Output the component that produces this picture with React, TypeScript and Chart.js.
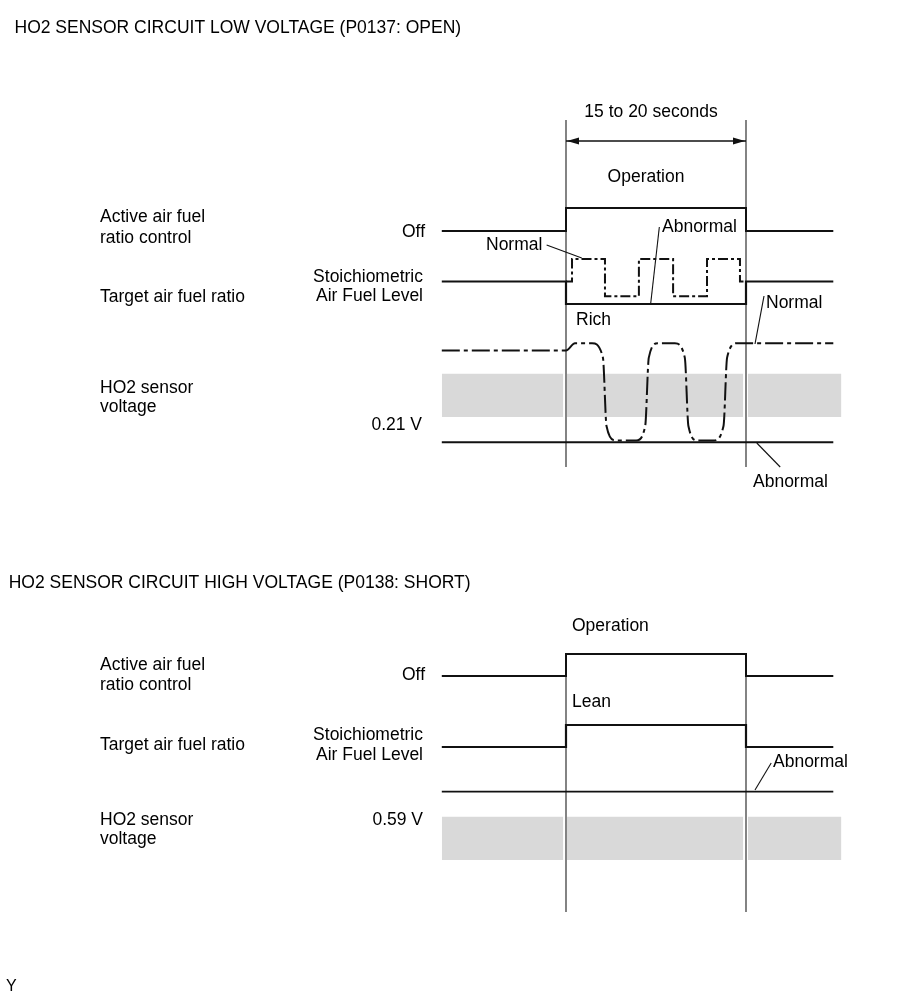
import React, { useEffect, useRef } from "react";
import { Chart, registerables } from "chart.js";

Chart.register(...registerables);

// ---------------- DATA ----------------
// time axis in seconds, 0 = start of active air-fuel ratio control, 20 = end
const OP_START = 0;
const OP_END = 20;
const T_LEFT = -13.8;
const T_RIGHT = 29.7;
const T_BAND_RIGHT = 30.6;

// Active air fuel ratio control (0 = Off, 1 = Operation)
const CTRL_T = [T_LEFT, 0, 0, 20, 20, T_RIGHT];
const CTRL_LEVEL = [0, 0, 1, 1, 0, 0];

// Target air fuel ratio (0 = Stoichiometric, +1 = Lean, -1 = Rich)
const TGT_OPEN_T = [T_LEFT, 0, 0, 20, 20, T_RIGHT];
const TGT_OPEN_LEVEL = [0, 0, -1, -1, 0, 0];
const TGT_NORMAL_T = [0, 0.67, 0.67, 4.33, 4.33, 8.1, 8.1, 11.9, 11.9, 15.67, 15.67, 19.33, 19.33, 20];
const TGT_NORMAL_LEVEL = [0, 0, 1, 1, -0.65, -0.65, 1, 1, -0.65, -0.65, 1, 1, 0, 0];
const TGT_SHORT_T = [T_LEFT, 0, 0, 20, 20, T_RIGHT];
const TGT_SHORT_LEVEL = [0, 0, 1, 1, 0, 0];

// HO2 sensor voltage (V)
const HO2_NORMAL_T = [T_LEFT, 0, 1.0, 2.9, 4.1, 4.5, 5.5, 7.8, 8.8, 9.2, 10.2, 12.1, 13.2, 13.6, 14.6, 16.4, 17.5, 17.9, 19.0, 20, T_RIGHT];
const HO2_NORMAL_V = [0.72, 0.72, 0.76, 0.76, 0.68, 0.3, 0.22, 0.22, 0.3, 0.68, 0.76, 0.76, 0.68, 0.3, 0.22, 0.22, 0.3, 0.68, 0.76, 0.76, 0.76];
const HO2_ABN_T = [T_LEFT, T_RIGHT];
const HO2_OPEN_ABN_V = [0.21, 0.21];
const HO2_SHORT_ABN_V = [0.73, 0.73];
const BAND_LOW_V = 0.35;
const BAND_HIGH_V = 0.59;
const BAND_SEGMENTS = [
  [T_LEFT, -0.3],
  [0.1, 19.7],
  [20.2, T_BAND_RIGHT],
];

// ---------------- LAYOUT ----------------
const W = 907;
const H = 995;
const OP_START_PX = 566;
const OP_END_PX = 746;
const PX_PER_S = (OP_END_PX - OP_START_PX) / (OP_END - OP_START);
const X_MIN = OP_START - OP_START_PX / PX_PER_S;
const X_MAX = X_MIN + W / PX_PER_S;

const INK = "#111111";
const GRID = "#333333";
const BAND = "#d9d9d9";
const FONT = '"Liberation Sans", Arial, Helvetica, sans-serif';
const FS = 17.5;

function rowAxis(zeroPx: number, pxPerUnit: number) {
  return {
    type: "linear",
    axis: "y",
    position: "left",
    display: false,
    min: -(H - zeroPx) / pxPerUnit,
    max: zeroPx / pxPerUnit,
  };
}

const VLINES = [
  { y: [120, 467] },
  { y: [654, 912] },
];
const ARROW_Y = 141;

const LEADERS = [
  { t: [-2.15, 1.75], y: [245, 258] },
  { t: [10.37, 9.41], y: [227, 303.5] },
  { t: [22.0, 21.0], y: [296, 344] },
  { t: [21.2, 23.8], y: [443, 467] },
  { t: [21.0, 22.8], y: [790, 763] },
];

type Lbl = { text: string; x: number; y: number; align?: CanvasTextAlign; size?: number };
const LABELS: Lbl[] = [
  { text: "HO2 SENSOR CIRCUIT LOW VOLTAGE (P0137: OPEN)", x: 14.5, y: 33 },
  { text: "15 to 20 seconds", x: 651, y: 117, align: "center" },
  { text: "Operation", x: 646, y: 182, align: "center" },
  { text: "Active air fuel", x: 100, y: 222 },
  { text: "ratio control", x: 100, y: 243 },
  { text: "Off", x: 425, y: 237, align: "right" },
  { text: "Normal", x: 486, y: 250 },
  { text: "Abnormal", x: 662, y: 232 },
  { text: "Stoichiometric", x: 423, y: 282, align: "right" },
  { text: "Air Fuel Level", x: 423, y: 301, align: "right" },
  { text: "Target air fuel ratio", x: 100, y: 302 },
  { text: "Rich", x: 576, y: 325 },
  { text: "Normal", x: 766, y: 308 },
  { text: "HO2 sensor", x: 100, y: 393 },
  { text: "voltage", x: 100, y: 412 },
  { text: "0.21 V", x: 422, y: 430, align: "right" },
  { text: "Abnormal", x: 753, y: 487 },

  { text: "HO2 SENSOR CIRCUIT HIGH VOLTAGE (P0138: SHORT)", x: 8.7, y: 588 },
  { text: "Operation", x: 572, y: 631 },
  { text: "Active air fuel", x: 100, y: 670 },
  { text: "ratio control", x: 100, y: 690 },
  { text: "Off", x: 425, y: 680, align: "right" },
  { text: "Lean", x: 572, y: 707 },
  { text: "Stoichiometric", x: 423, y: 740, align: "right" },
  { text: "Air Fuel Level", x: 423, y: 760, align: "right" },
  { text: "Target air fuel ratio", x: 100, y: 750 },
  { text: "Abnormal", x: 773, y: 767 },
  { text: "HO2 sensor", x: 100, y: 825 },
  { text: "voltage", x: 100, y: 844 },
  { text: "0.59 V", x: 423, y: 825, align: "right" },
  { text: "Y", x: 6, y: 991, size: 16 },
];

// ---------------- HELPERS ----------------
const pts = (ts: number[], vs: number[]) => ts.map((t, i) => ({ x: t, y: vs[i] }));

function line(data: any[], yAxisID: string, width: number, extra: any = {}) {
  return {
    data,
    xAxisID: "x",
    yAxisID,
    showLine: true,
    borderColor: INK,
    backgroundColor: INK,
    borderWidth: width,
    pointRadius: 0,
    pointHoverRadius: 0,
    fill: false,
    tension: 0,
    borderJoinStyle: "miter",
    borderCapStyle: "butt",
    ...extra,
  };
}

const textPlugin = {
  id: "diagramText",
  afterDatasetsDraw(chart: any) {
    const ctx = chart.ctx as CanvasRenderingContext2D;
    const xs = chart.scales.x;
    const ps = chart.scales.page;
    ctx.save();
    // double-headed arrow heads
    const ay = ps.getPixelForValue(ARROW_Y);
    const ax0 = xs.getPixelForValue(OP_START);
    const ax1 = xs.getPixelForValue(OP_END);
    ctx.fillStyle = INK;
    ctx.beginPath();
    ctx.moveTo(ax0 + 1, ay);
    ctx.lineTo(ax0 + 13, ay - 3.5);
    ctx.lineTo(ax0 + 13, ay + 3.5);
    ctx.closePath();
    ctx.fill();
    ctx.beginPath();
    ctx.moveTo(ax1 - 1, ay);
    ctx.lineTo(ax1 - 13, ay - 3.5);
    ctx.lineTo(ax1 - 13, ay + 3.5);
    ctx.closePath();
    ctx.fill();
    // text
    ctx.fillStyle = "#000000";
    ctx.textBaseline = "alphabetic";
    for (const l of LABELS) {
      ctx.font = `${l.size ?? FS}px ${FONT}`;
      ctx.textAlign = l.align ?? "left";
      ctx.fillText(l.text, l.x, l.y);
    }
    ctx.restore();
  },
};

export default function App() {
  const ref = useRef<HTMLCanvasElement | null>(null);

  useEffect(() => {
    const canvas = ref.current;
    if (!canvas) return;

    const datasets: any[] = [];

    // --- P0137 (open) ---
    datasets.push(line(pts(CTRL_T, CTRL_LEVEL), "ctl1", 2));
    datasets.push(line(pts(TGT_OPEN_T, TGT_OPEN_LEVEL), "tgt1", 2.2));
    datasets.push(line(pts(TGT_NORMAL_T, TGT_NORMAL_LEVEL), "tgt1", 2, { borderDash: [10, 3, 3, 3] }));
    datasets.push(
      line(pts(HO2_NORMAL_T, HO2_NORMAL_V), "volt1", 2, {
        borderDash: [18, 4, 4, 4],
        cubicInterpolationMode: "monotone",
      })
    );
    datasets.push(line(pts(HO2_ABN_T, HO2_OPEN_ABN_V), "volt1", 2));

    // --- P0138 (short) ---
    datasets.push(line(pts(CTRL_T, CTRL_LEVEL), "ctl2", 2));
    datasets.push(line(pts(TGT_SHORT_T, TGT_SHORT_LEVEL), "tgt2", 2.2));
    datasets.push(line(pts(HO2_ABN_T, HO2_SHORT_ABN_V), "volt2", 1.6));

    // arrow shaft
    datasets.push(line(pts([OP_START, OP_END], [ARROW_Y, ARROW_Y]), "page", 1.4));

    // leader lines
    for (const ld of LEADERS) {
      datasets.push(line(pts(ld.t, ld.y), "page", 1.1));
    }

    // operation boundaries
    for (const v of VLINES) {
      datasets.push(line(pts([OP_START, OP_START], v.y), "page", 1.2, { borderColor: GRID }));
      datasets.push(line(pts([OP_END, OP_END], v.y), "page", 1.2, { borderColor: GRID }));
    }

    // grey judgement bands (drawn first, so last in the list)
    for (const axis of ["volt1", "volt2"]) {
      for (const seg of BAND_SEGMENTS) {
        datasets.push(
          line(pts(seg, [BAND_HIGH_V, BAND_HIGH_V]), axis, 0, {
            borderColor: "rgba(0,0,0,0)",
            backgroundColor: BAND,
            fill: { value: BAND_LOW_V },
          })
        );
      }
    }

    const chart = new Chart(canvas, {
      type: "scatter",
      data: { datasets },
      options: {
        animation: false,
        responsive: false,
        maintainAspectRatio: false,
        events: [],
        layout: { padding: 0 },
        plugins: {
          legend: { display: false },
          tooltip: { enabled: false },
          title: { display: false },
        },
        scales: {
          x: { type: "linear", display: false, min: X_MIN, max: X_MAX },
          page: { type: "linear", axis: "y", position: "left", display: false, reverse: true, min: 0, max: H },
          ctl1: rowAxis(231, 23),
          tgt1: rowAxis(281.5, 22.5),
          volt1: rowAxis(480, 180),
          ctl2: rowAxis(676, 22),
          tgt2: rowAxis(747, 22),
          volt2: rowAxis(923, 180),
        } as any,
      },
      plugins: [textPlugin],
    } as any);

    return () => chart.destroy();
  }, []);

  return (
    <div style={{ position: "absolute", left: 0, top: 0, width: W, height: H, background: "#fff" }}>
      <canvas ref={ref} width={W} height={H} style={{ width: W, height: H, display: "block" }} />
    </div>
  );
}
